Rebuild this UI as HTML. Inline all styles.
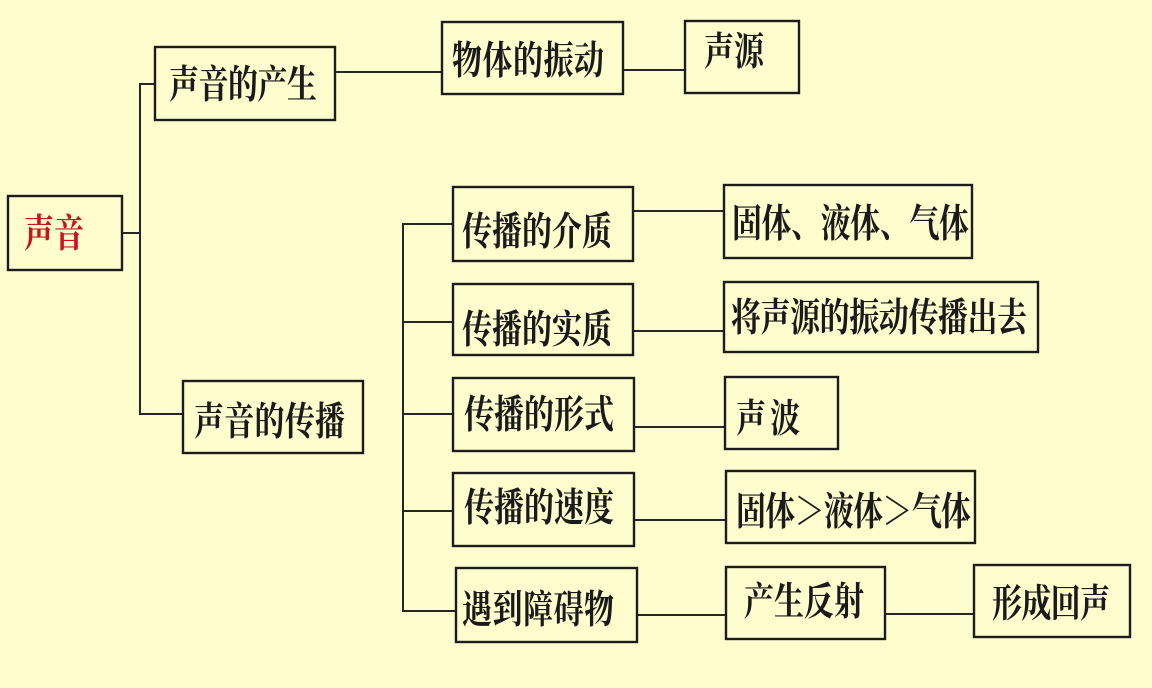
<!DOCTYPE html>
<html>
<head>
<meta charset="utf-8">
<style>
  html,body{margin:0;padding:0;background:#fffccd;}
  body{width:1152px;height:688px;overflow:hidden;}
  svg{display:block;}
  text{font-family:"Liberation Serif","Noto Serif CJK SC","Noto Sans CJK SC",serif;font-weight:700;font-size:30px;fill:#1a1a1a;}
</style>
</head>
<body>
<svg width="1152" height="688" viewBox="0 0 1152 688" xmlns="http://www.w3.org/2000/svg">
  <rect x="0" y="0" width="1152" height="688" fill="#fffccd"/>
  <g stroke="#262626" stroke-width="2" fill="none">
    <!-- left tree -->
    <line x1="122" y1="233" x2="140" y2="233"/>
    <line x1="140" y1="83" x2="140" y2="415"/>
    <line x1="139" y1="84" x2="155" y2="84"/>
    <line x1="139" y1="414" x2="183" y2="414"/>
    <!-- top row -->
    <line x1="335" y1="72" x2="442" y2="72"/>
    <line x1="623" y1="70" x2="685" y2="70"/>
    <!-- right tree -->
    <line x1="403" y1="223" x2="403" y2="612"/>
    <line x1="402" y1="224" x2="453" y2="224"/>
    <line x1="402" y1="322" x2="453" y2="322"/>
    <line x1="402" y1="414" x2="453" y2="414"/>
    <line x1="402" y1="511" x2="453" y2="511"/>
    <line x1="402" y1="611" x2="456" y2="611"/>
    <!-- to leaves -->
    <line x1="633" y1="211" x2="724" y2="211"/>
    <line x1="633" y1="331" x2="724" y2="331"/>
    <line x1="634" y1="427" x2="725" y2="427"/>
    <line x1="634" y1="520" x2="726" y2="520"/>
    <line x1="637" y1="615" x2="726" y2="615"/>
    <line x1="885" y1="614" x2="974" y2="614"/>
  </g>
  <g stroke="#1c1c1c" stroke-width="2.4" fill="none">
    <rect x="8" y="196" width="114" height="74"/>
    <rect x="155" y="47" width="180" height="73"/>
    <rect x="183" y="381" width="180" height="72"/>
    <rect x="442" y="22" width="181" height="72"/>
    <rect x="685" y="21" width="114" height="72"/>
    <rect x="453" y="187" width="180" height="74"/>
    <rect x="453" y="284" width="180" height="71"/>
    <rect x="453" y="378" width="181" height="73"/>
    <rect x="453" y="473" width="181" height="73"/>
    <rect x="456" y="568" width="181" height="74"/>
    <rect x="724" y="185" width="248" height="73"/>
    <rect x="724" y="282" width="314" height="70"/>
    <rect x="725" y="377" width="113" height="72"/>
    <rect x="726" y="471" width="249" height="72"/>
    <rect x="726" y="567" width="159" height="72"/>
    <rect x="974" y="565" width="156" height="72"/>
  </g>
  <g>
    <text transform="translate(24,247) scale(1,1.3)" textLength="60" lengthAdjust="spacing" style="fill:#c8141e">声音</text>
    <text transform="translate(169,98) scale(1,1.3)" textLength="148" lengthAdjust="spacing">声音的产生</text>
    <text transform="translate(194,435) scale(1,1.3)" textLength="151" lengthAdjust="spacing">声音的传播</text>
    <text transform="translate(452,74) scale(1,1.3)" textLength="152" lengthAdjust="spacing">物体的振动</text>
    <text transform="translate(704,65) scale(1,1.3)" textLength="60" lengthAdjust="spacing">声源</text>
    <text transform="translate(462,245) scale(1,1.3)" textLength="150" lengthAdjust="spacing">传播的介质</text>
    <text transform="translate(462,343) scale(1,1.3)" textLength="150" lengthAdjust="spacing">传播的实质</text>
    <text transform="translate(464,428) scale(1,1.3)" textLength="150" lengthAdjust="spacing">传播的形式</text>
    <text transform="translate(464,521) scale(1,1.3)" textLength="150" lengthAdjust="spacing">传播的速度</text>
    <text transform="translate(462,623) scale(1,1.3)" textLength="152" lengthAdjust="spacing">遇到障碍物</text>
    <text transform="translate(732,237) scale(1,1.3)" textLength="237" lengthAdjust="spacing">固体、液体、气体</text>
    <text transform="translate(731,331) scale(1,1.3)" textLength="296" lengthAdjust="spacing">将声源的振动传播出去</text>
    <text transform="translate(736,432) scale(1,1.3)" textLength="64" lengthAdjust="spacing">声波</text>
    <text transform="translate(736,525) scale(1,1.3)" textLength="235" lengthAdjust="spacing">固体＞液体＞气体</text>
    <text transform="translate(744,615) scale(1,1.3)" textLength="120" lengthAdjust="spacing">产生反射</text>
    <text transform="translate(992,617) scale(1,1.3)" textLength="118" lengthAdjust="spacing">形成回声</text>
  </g>
</svg>
</body>
</html>
